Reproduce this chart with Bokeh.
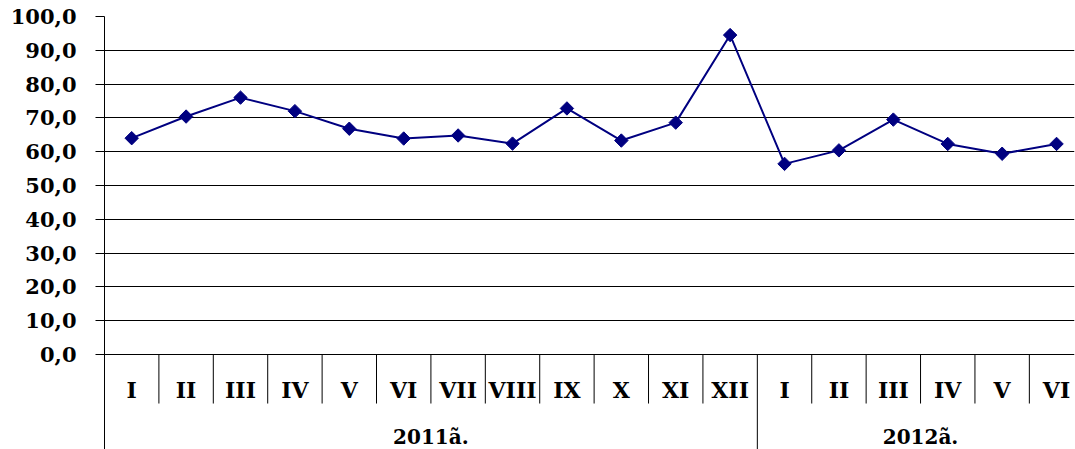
import math
from bokeh.plotting import figure
from bokeh.models import Range1d, FixedTicker, CustomJSTickFormatter, ColumnDataSource
from bokeh.core.properties import value
from bokeh.embed import file_html
from bokeh.resources import INLINE

months = ["I", "II", "III", "IV", "V", "VI", "VII", "VIII", "IX", "X", "XI", "XII",
          "I", "II", "III", "IV", "V", "VI"]
years = ["2011ã.", "2012ã."]
year_counts = [12, 6]
values = [64.0, 70.4, 76.0, 72.0, 66.8, 63.9, 64.8, 62.4, 72.8, 63.3, 68.6, 94.5,
          56.4, 60.4, 69.5, 62.3, 59.4, 62.3]
y_ticks = [0, 10, 20, 30, 40, 50, 60, 70, 80, 90, 100]

n = len(months)
xs = [i + 0.5 for i in range(n)]

FONT = "DejaVu Serif"

# the last category is partly cut off at the right edge in the reference
p = figure(width=1075, height=449, x_range=Range1d(0, n - 0.17), y_range=Range1d(-28.1, 100),
           output_backend="svg", toolbar_location=None, x_axis_location=None,
           min_border_left=104, min_border_top=16, min_border_bottom=0, min_border_right=1)
p.outline_line_color = None
p.background_fill_color = "white"
p.border_fill_color = "white"
p.xgrid.visible = False

ticker = FixedTicker(ticks=y_ticks, minor_ticks=[])
p.yaxis.ticker = ticker
p.yaxis.formatter = CustomJSTickFormatter(code="return tick.toFixed(1).replace('.', ',');")
p.yaxis.axis_line_color = "black"
p.yaxis.axis_line_width = 1
p.yaxis.major_tick_out = 9
p.yaxis.major_tick_in = 0
p.yaxis.major_tick_line_color = "black"
p.yaxis.minor_tick_line_color = None
p.yaxis.major_label_standoff = 19
p.yaxis.major_label_text_font = FONT
p.yaxis.major_label_text_font_style = "bold"
p.yaxis.major_label_text_font_size = "21px"
p.yaxis.major_label_text_color = "black"

p.ygrid.ticker = ticker
p.ygrid.grid_line_color = "black"
p.ygrid.grid_line_width = 1

# category separators
year_bounds = []
acc = 0
for c in year_counts[:-1]:
    acc += c
    year_bounds.append(acc)
month_bounds = [b for b in range(1, n) if b not in year_bounds]
p.segment(x0=month_bounds, y0=[0] * len(month_bounds), x1=month_bounds,
          y1=[-14.5] * len(month_bounds), line_color="black", line_width=1)
p.segment(x0=year_bounds, y0=[0] * len(year_bounds), x1=year_bounds,
          y1=[-28.1] * len(year_bounds), line_color="black", line_width=1)

# month labels
p.text(x=xs, y=[-10.6] * n, text=months, text_align="center", text_baseline="middle",
       text_font=value(FONT), text_font_style="bold", text_font_size="22px", text_color="black")

# year labels
year_x = []
start = 0
for c in year_counts:
    year_x.append(start + c / 2)
    start += c
p.text(x=year_x, y=[-24.4] * len(years), text=years, text_align="center", text_baseline="middle",
       text_font=value(FONT), text_font_style="bold", text_font_size="20px", text_color="black")

src = ColumnDataSource(dict(x=xs, y=values))
p.line("x", "y", source=src, line_color="#000080", line_width=2)
p.scatter("x", "y", source=src, marker="square", angle=math.pi / 4, size=9.5,
          fill_color="#000080", line_color="#000080")

open("out.html", "w").write(file_html(p, INLINE))
